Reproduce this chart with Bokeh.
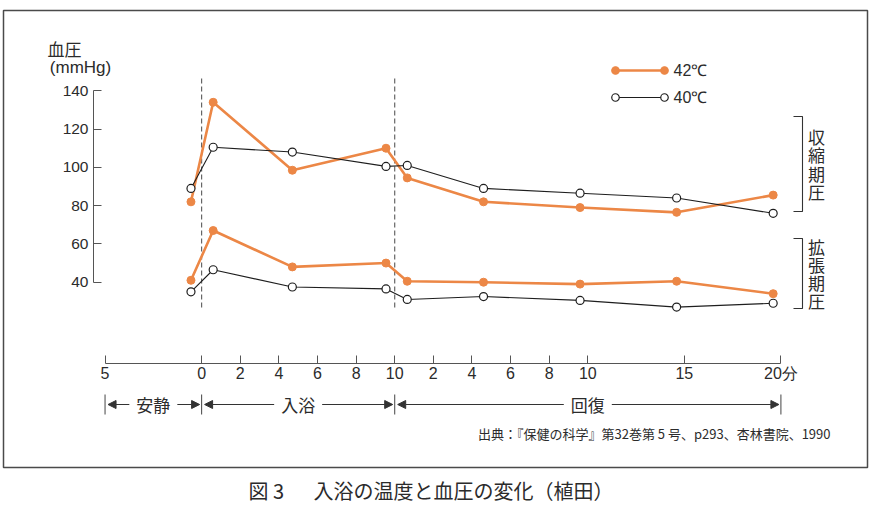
from bokeh.plotting import figure
from bokeh.models import LinearAxis, FixedTicker, Range1d, Arrow, NormalHead
from bokeh.core.properties import value
from bokeh.embed import file_html
from bokeh.resources import INLINE

# Minutes from the start of bathing: rest -5..0, bath 0..10, recovery 10..30
times = [-0.55, 0.6, 4.7, 9.55, 10.65, 14.6, 19.6, 24.6, 29.6]
systolic_42 = [82, 134, 98.5, 110, 94.5, 82, 79, 76.5, 85.5]
systolic_40 = [89, 110.5, 108, 100.5, 101, 89, 86.5, 84, 76]
diastolic_42 = [41, 67, 48, 50, 40.5, 40, 39, 40.5, 34]
diastolic_40 = [35, 46.5, 37.5, 36.5, 31, 32.5, 30.5, 27, 29]

y_ticks = [40, 60, 80, 100, 120, 140]
x_ticks = [-5, 0, 2, 4, 6, 8, 10, 12, 14, 16, 18, 20, 25, 30]
x_tick_labels = ["5", "0", "2", "4", "6", "8", "10", "2", "4", "6", "8", "10", "15", "20分"]

phase_starts = [-5, 0, 10]
phase_ends = [0, 10, 30]
phase_names = ["安静", "入浴", "回復"]

series_names = ["42℃", "40℃"]
bracket_names = ["収縮期圧", "拡張期圧"]

# ---- canvas / scale setup -------------------------------------------------
W, H = 870, 508
X_MIN, X_MAX = -10.414, 34.640
Y_MIN, Y_MAX = -78.23, 187.18

ORANGE = "#EC8746"
BLACK = "#1e1e1e"
TEXT = "#2b2b2b"
AXIS = "#555555"
CJK = "Noto Sans CJK JP"
NUM = "Liberation Sans"


def dx(px):
    """canvas pixel column -> time coordinate"""
    return X_MIN + px * (X_MAX - X_MIN) / W


def dy(py):
    """canvas pixel row -> mmHg coordinate"""
    return Y_MAX - py * (Y_MAX - Y_MIN) / H


def wx(npx):
    return npx * (X_MAX - X_MIN) / W


p = figure(width=W, height=H, x_range=Range1d(X_MIN, X_MAX), y_range=Range1d(Y_MIN, Y_MAX),
           x_axis_type=None, y_axis_type=None, output_backend="svg", toolbar_location=None,
           min_border=0, title=None, outline_line_color=None,
           background_fill_color="white", border_fill_color="white")


def label(x, y, txt, size, align="center", font=CJK, color=TEXT, baseline="middle"):
    p.text(x=[x], y=[y], text=[txt], text_font=value(font), text_font_size=value(size),
           text_align=align, text_baseline=baseline, text_color=color)


# outer frame of the figure box
p.quad(left=[dx(3)], right=[dx(867)], top=[dy(10)], bottom=[dy(467)],
       fill_color=None, line_color="#4a4a4a", line_width=1.5)

# ---- axes ----------------------------------------------------------------
yax = LinearAxis(fixed_location=dx(93), bounds=(min(y_ticks), max(y_ticks)),
                 ticker=FixedTicker(ticks=y_ticks),
                 major_tick_in=8, major_tick_out=0, minor_tick_in=0, minor_tick_out=0,
                 axis_line_color=AXIS, major_tick_line_color=AXIS,
                 major_label_text_font=NUM, major_label_text_font_size="15.5px",
                 major_label_text_color=TEXT, major_label_standoff=5)
p.add_layout(yax, "left")

xax = LinearAxis(fixed_location=dy(362.5), bounds=(min(x_ticks), max(x_ticks)),
                 ticker=FixedTicker(ticks=x_ticks),
                 major_label_overrides={t: s for t, s in zip(x_ticks, x_tick_labels)},
                 major_tick_in=8, major_tick_out=0, minor_tick_in=0, minor_tick_out=0,
                 axis_line_color=AXIS, major_tick_line_color=AXIS,
                 major_label_text_font=NUM, major_label_text_font_size="16px",
                 major_label_text_color=TEXT, major_label_standoff=2)
p.add_layout(xax, "below")

label(dx(64), dy(48), "血圧", "17px")
label(dx(80), dy(67), "(mmHg)", "17px", font=NUM)

# dashed boundaries of the bathing period
bounds_x = phase_starts[1:]
p.segment(x0=bounds_x, x1=bounds_x, y0=[dy(78)] * len(bounds_x), y1=[dy(307)] * len(bounds_x),
          line_color="#666666", line_width=1.2, line_dash="5 3")

# ---- data series ---------------------------------------------------------
for vals in (systolic_42, diastolic_42):
    p.line(times, vals, line_color=ORANGE, line_width=2.6)
    p.scatter(times, vals, size=8, fill_color=ORANGE, line_color=ORANGE)

for vals in (systolic_40, diastolic_40):
    p.line(times, vals, line_color=BLACK, line_width=1.1)
    p.scatter(times, vals, size=8, fill_color="white", line_color=BLACK, line_width=1.2)

# ---- legend --------------------------------------------------------------
legend_styles = [dict(lc=ORANGE, lw=2.6, fc=ORANGE), dict(lc=BLACK, lw=1.1, fc="white")]
for i, (name, st) in enumerate(zip(series_names, legend_styles)):
    yy = dy(70 + 27 * i)
    xs = [dx(615), dx(664)]
    p.line(xs, [yy, yy], line_color=st["lc"], line_width=st["lw"])
    p.scatter(xs, [yy, yy], size=7.5, fill_color=st["fc"], line_color=st["lc"], line_width=1.2)
    label(dx(673), yy, name, "16px", align="left", font=NUM)

# ---- brackets: systolic / diastolic -------------------------------------
for name, (top, bot) in zip(bracket_names, [(116, 211), (238, 308)]):
    bx = dx(802)
    p.line([dx(793), bx, bx, dx(793)], [dy(top), dy(top), dy(bot), dy(bot)],
           line_color="#333333", line_width=1.1)
    n = len(name)
    mid = (top + bot) / 2
    step = 18.3
    for k, ch in enumerate(name):
        label(dx(816), dy(mid + (k - (n - 1) / 2) * step), ch, "17px")

# ---- phase annotation row -----------------------------------------------
row_y = dy(404)
edges = sorted(set(phase_starts + phase_ends))
p.segment(x0=edges, x1=edges, y0=[dy(394)] * len(edges), y1=[dy(414)] * len(edges),
          line_color=AXIS, line_width=1.1)
for a, b, name in zip(phase_starts, phase_ends, phase_names):
    mid = (a + b) / 2
    label(mid, row_y, name, "17px")
    for tip, tail in ((a + wx(3), mid - wx(24)), (b - wx(2), mid + wx(24))):
        p.add_layout(Arrow(x_start=tail, y_start=row_y, x_end=tip, y_end=row_y,
                           line_color="#333333", line_width=1.1,
                           end=NormalHead(size=8, fill_color="#333333", line_color="#333333",
                                          line_width=1)))

# ---- source and caption --------------------------------------------------
label(dx(830), dy(433), "出典：『保健の科学』第32巻第 5 号、p293、杏林書院、1990", "13px",
      align="right")
label(dx(248), dy(490), "図 3", "20px", align="left")
label(dx(313), dy(490), "入浴の温度と血圧の変化（植田）", "20px", align="left")

open("out.html", "w").write(file_html(p, INLINE))
